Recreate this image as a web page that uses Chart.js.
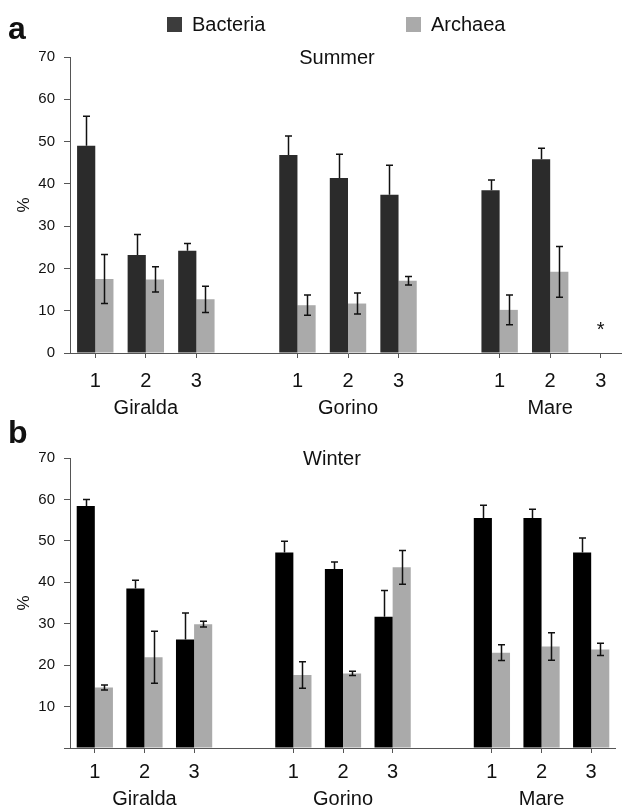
<!DOCTYPE html>
<html><head><meta charset="utf-8">
<script src="https://cdn.jsdelivr.net/npm/chart.js@4.4.1/dist/chart.umd.min.js"></script>
<style>
html,body{margin:0;padding:0;background:#fff;overflow:hidden;width:622px;height:810px;position:relative}
canvas{position:absolute;left:0}
#ca{top:0}
#cb{top:405px}
</style></head><body>
<canvas id="ca" width="626" height="425"></canvas>
<canvas id="cb" width="616" height="405"></canvas>
<script>
// ---- data ----
const sites = ['1','2','3','', '1','2','3','', '1','2','3'];
const groupLabels = ['', 'Giralda', '', '', '', 'Gorino', '', '', '', 'Mare', ''];
const seriesNames = ['Bacteria', 'Archaea'];

const summerBacteria    = [49.0, 23.2, 24.2, null, 46.8, 41.4, 37.4, null, 38.5, 45.8, null];
const summerBacteriaErr = [7.0, 4.8, 1.7, null, 4.5, 5.6, 7.0, null, 2.4, 2.6, null];
const summerArchaea     = [17.5, 17.4, 12.7, null, 11.3, 11.7, 17.1, null, 10.2, 19.2, null];
const summerArchaeaErr  = [5.8, 3.0, 3.1, null, 2.4, 2.5, 1.0, null, 3.5, 6.0, null];

const winterBacteria    = [58.4, 38.5, 26.2, null, 47.2, 43.2, 31.7, null, 55.5, 55.5, 47.2];
const winterBacteriaErr = [1.6, 2.0, 6.4, null, 2.7, 1.7, 6.3, null, 3.1, 2.1, 3.5];
const winterArchaea     = [14.6, 21.9, 29.9, null, 17.6, 18.0, 43.6, null, 23.0, 24.5, 23.8];
const winterArchaeaErr  = [0.6, 6.3, 0.7, null, 3.2, 0.5, 4.1, null, 1.9, 3.3, 1.5];

const yTicksA = [0, 10, 20, 30, 40, 50, 60, 70];
const yTicksB = [10, 20, 30, 40, 50, 60, 70];
const missingIndex = 10; // Mare 3 summer: no data (*)

// ---- helpers ----
const FONT = '"Liberation Sans", Arial, Helvetica, sans-serif';
Chart.defaults.font.family = FONT;
Chart.defaults.color = '#111';

const xLabels = sites.map((s, i) => [s, groupLabels[i]]);

const errorBars = {
  id: 'errorBars',
  afterDatasetsDraw(chart) {
    const ctx = chart.ctx, ys = chart.scales.y;
    ctx.save();
    ctx.strokeStyle = '#111';
    ctx.lineWidth = 1.5;
    chart.data.datasets.forEach((ds, i) => {
      const meta = chart.getDatasetMeta(i);
      (ds.errors || []).forEach((e, j) => {
        const v = ds.data[j];
        if (v == null || e == null) return;
        const el = meta.data[j];
        const x = Math.round(el.x) + 0.5;
        const yt = ys.getPixelForValue(v + e);
        const yb = ds.errorLower ? ys.getPixelForValue(v - e) : ys.getPixelForValue(v);
        const cw = 3.5;
        ctx.beginPath();
        ctx.moveTo(x, yt); ctx.lineTo(x, yb);
        ctx.moveTo(x - cw, yt); ctx.lineTo(x + cw, yt);
        if (ds.errorLower) { ctx.moveTo(x - cw, yb); ctx.lineTo(x + cw, yb); }
        ctx.stroke();
      });
    });
    ctx.restore();
  }
};

const deco = {
  id: 'deco',
  afterDraw(chart, args, o) {
    const ctx = chart.ctx;
    ctx.save();
    ctx.fillStyle = '#111';
    // panel letter
    ctx.font = 'bold 32px ' + FONT;
    ctx.textBaseline = 'alphabetic';
    ctx.textAlign = 'left';
    ctx.fillText(o.letter, 8, o.letterBase);
    // title
    ctx.font = '20px ' + FONT;
    ctx.textAlign = 'center';
    ctx.textBaseline = 'middle';
    ctx.fillText(o.title, o.titleX, o.titleY);
    // legend
    if (o.legend) {
      chart.data.datasets.forEach((ds, i) => {
        const lx = o.legendX[i];
        ctx.fillStyle = o.legendColors[i];
        ctx.fillRect(lx, 17, 15, 15);
        ctx.fillStyle = '#111';
        ctx.textAlign = 'left';
        ctx.fillText(ds.label, lx + 25, 25);
      });
    }
    // asterisk for missing value
    if (o.asterisk != null) {
      const xs = chart.scales.x, ys = chart.scales.y;
      ctx.fillStyle = '#111';
      ctx.font = '20px ' + FONT;
      ctx.textAlign = 'center';
      ctx.textBaseline = 'alphabetic';
      ctx.fillText('*', xs.getPixelForValue(o.asterisk), ys.getPixelForValue(0) - 17.5);
    }
    ctx.restore();
  }
};

function makePanel(id, cfg) {
  return new Chart(document.getElementById(id), {
    type: 'bar',
    data: {
      labels: xLabels,
      datasets: [
        { label: seriesNames[0], data: cfg.bac, errors: cfg.bacErr, errorLower: false,
          backgroundColor: cfg.bacColor, borderWidth: 0,
          categoryPercentage: cfg.catPct, barPercentage: 1.0 },
        { label: seriesNames[1], data: cfg.arc, errors: cfg.arcErr, errorLower: true,
          backgroundColor: '#aaaaaa', borderWidth: 0,
          categoryPercentage: cfg.catPct, barPercentage: 1.0 }
      ]
    },
    options: {
      responsive: false,
      animation: false,
      devicePixelRatio: 1,
      layout: { padding: { top: cfg.padTop, left: 0, right: 0, bottom: 0 } },
      plugins: {
        legend: { display: false },
        tooltip: { enabled: false },
        title: { display: false },
        deco: cfg.deco
      },
      scales: {
        x: {
          type: 'category',
          offset: true,
          grid: {
            offset: false, drawOnChartArea: false, drawTicks: true, tickLength: 5,
            tickColor: (c) => (sites[c.index] === '' ? 'rgba(0,0,0,0)' : '#555'),
            tickWidth: 1
          },
          border: { color: '#555', width: 1 },
          ticks: {
            autoSkip: false, maxRotation: 0, minRotation: 0, padding: cfg.xPad,
            font: { size: 20, lineHeight: 1.35 }, color: '#111'
          },
          afterFit: (s) => { s.height = cfg.xHeight; }
        },
        y: {
          min: 0, max: 70,
          grid: { drawOnChartArea: false, drawTicks: true, tickLength: 6, tickColor: '#555' },
          border: { color: '#555', width: 1 },
          ticks: {
            stepSize: 10, padding: 9, font: { size: 15 }, color: '#111',
            callback: (v) => (cfg.yTicks.includes(v) ? String(v) : '')
          },
          title: { display: true, text: '%', font: { size: 17 }, color: '#111', padding: { top: 14, bottom: 0 } },
          afterFit: (s) => { s.width = 70; }
        }
      }
    },
    plugins: [errorBars, deco]
  });
}

makePanel('ca', {
  bac: summerBacteria, bacErr: summerBacteriaErr,
  arc: summerArchaea, arcErr: summerArchaeaErr,
  bacColor: '#2b2b2b', catPct: 0.72,
  padTop: 57, xHeight: 72, xPad: 10, yTicks: yTicksA,
  deco: { letter: 'a', letterBase: 39, title: 'Summer', titleX: 337, titleY: 58,
          legend: true, legendX: [167, 406], legendColors: ['#3c3c3c', '#aaaaaa'],
          asterisk: missingIndex }
});

makePanel('cb', {
  bac: winterBacteria, bacErr: winterBacteriaErr,
  arc: winterArchaea, arcErr: winterArchaeaErr,
  bacColor: '#000000', catPct: 0.73,
  padTop: 53, xHeight: 62, xPad: 6, yTicks: yTicksB,
  deco: { letter: 'b', letterBase: 38, title: 'Winter', titleX: 332, titleY: 54,
          legend: false, asterisk: null }
});
</script>
</body></html>
